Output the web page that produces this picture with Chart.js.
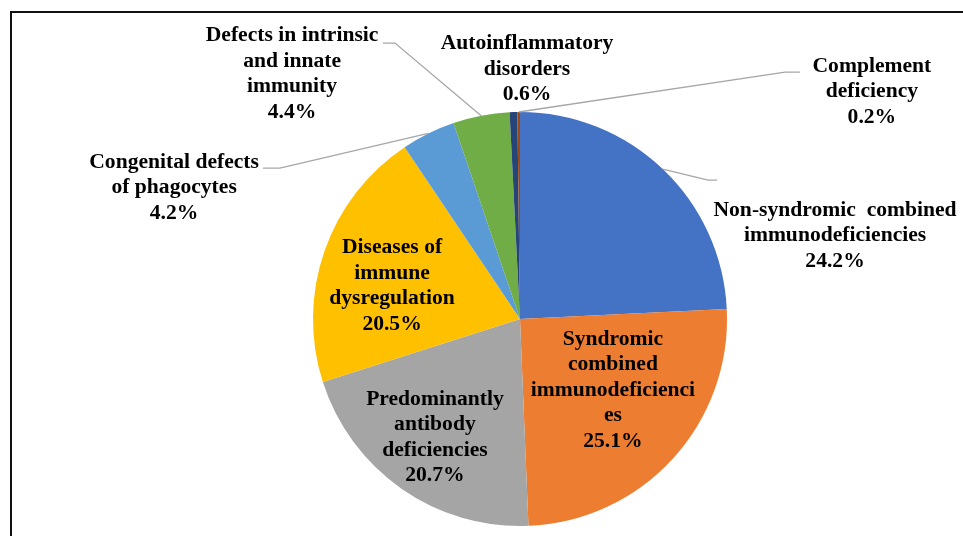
<!DOCTYPE html>
<html>
<head>
<meta charset="utf-8">
<script src="https://cdn.jsdelivr.net/npm/chart.js@4.4.1/dist/chart.umd.min.js"></script>
<style>
    html, body { margin: 0; padding: 0; background: #fff; }
    canvas { display: block; }
</style>
</head>
<body>
<canvas id="pieChart" width="963" height="536"></canvas>
<script>
/* ================= DATA ================= */
const categories = [
    ["Non-syndromic  combined", "immunodeficiencies"],
    ["Syndromic", "combined", "immunodeficienci", "es"],
    ["Predominantly", "antibody", "deficiencies"],
    ["Diseases of", "immune", "dysregulation"],
    ["Congenital defects", "of phagocytes"],
    ["Defects in intrinsic", "and innate", "immunity"],
    ["Autoinflammatory", "disorders"],
    ["Complement", "deficiency"]
];
const shares = [24.2, 25.1, 20.7, 20.5, 4.2, 4.4, 0.6, 0.2];
const sliceColors = ["#4472C4", "#ED7D31", "#A5A5A5", "#FFC000", "#5B9BD5", "#70AD47", "#264478", "#9E480E"];

/* ================= LABEL LAYOUT (in pie-radius units from centre) ================= */
const labelSpots = [
    { dx: 1.522, dy: -0.403, lead: { ex: 0.952, ey: -0.671, stub: 9 } },
    { dx: 0.449, dy: 0.345 },
    { dx: -0.411, dy: 0.572 },
    { dx: -0.618, dy: -0.160 },
    { dx: -1.671, dy: -0.635, lead: { ex: -1.242, ey: -0.729, stub: -17 } },
    { dx: -1.101, dy: -1.184, lead: { ex: -0.662, ey: -1.333, stub: -12 } },
    { dx: 0.034, dy: -1.208 },
    { dx: 1.700, dy: -1.097, lead: { ex: 1.353, ey: -1.193, stub: 15 } }
];

const LINE_H = 25.5;

const pieLabels = {
    id: "pieLabels",
    beforeDraw(chart) {
        const ctx = chart.ctx;
        ctx.save();
        ctx.strokeStyle = "#111";
        ctx.lineWidth = 2;
        ctx.beginPath();
        ctx.moveTo(11, chart.height + 5);
        ctx.lineTo(11, 12);
        ctx.lineTo(chart.width + 5, 12);
        ctx.stroke();
        ctx.restore();
    },
    afterDatasetsDraw(chart) {
        const ctx = chart.ctx;
        const arcs = chart.getDatasetMeta(0).data;
        ctx.save();
        arcs.forEach((arc, i) => {
            const p = arc.getProps(["x", "y", "startAngle", "endAngle", "outerRadius"], true);
            const r = p.outerRadius;
            const spot = labelSpots[i];

            if (spot.lead) {
                const mid = (p.startAngle + p.endAngle) / 2;
                const ax = p.x + Math.cos(mid) * r;
                const ay = p.y + Math.sin(mid) * r;
                const ex = p.x + spot.lead.ex * r;
                const ey = p.y + spot.lead.ey * r;
                ctx.strokeStyle = "#A6A6A6";
                ctx.lineWidth = 1.3;
                ctx.beginPath();
                ctx.moveTo(ax, ay);
                ctx.lineTo(ex - spot.lead.stub, ey);
                ctx.lineTo(ex, ey);
                ctx.stroke();
            }

            const lines = categories[i].concat([shares[i].toFixed(1) + "%"]);
            const cx = p.x + spot.dx * r;
            const cy = p.y + spot.dy * r;
            const top = cy - (lines.length - 1) * LINE_H / 2;
            ctx.fillStyle = "#000";
            ctx.font = "bold 21.6px 'Liberation Serif', 'Times New Roman', serif";
            ctx.textAlign = "center";
            ctx.textBaseline = "middle";
            lines.forEach((txt, k) => ctx.fillText(txt, cx, top + k * LINE_H));
        });
        ctx.restore();
    }
};

new Chart(document.getElementById("pieChart").getContext("2d"), {
    type: "pie",
    data: {
        labels: categories,
        datasets: [{
            data: shares,
            backgroundColor: sliceColors,
            borderWidth: 0
        }]
    },
    options: {
        responsive: false,
        animation: false,
        layout: { padding: { left: 313, right: 236, top: 112, bottom: 10 } },
        plugins: {
            legend: { display: false },
            tooltip: { enabled: false }
        }
    },
    plugins: [pieLabels]
});
</script>
</body>
</html>
